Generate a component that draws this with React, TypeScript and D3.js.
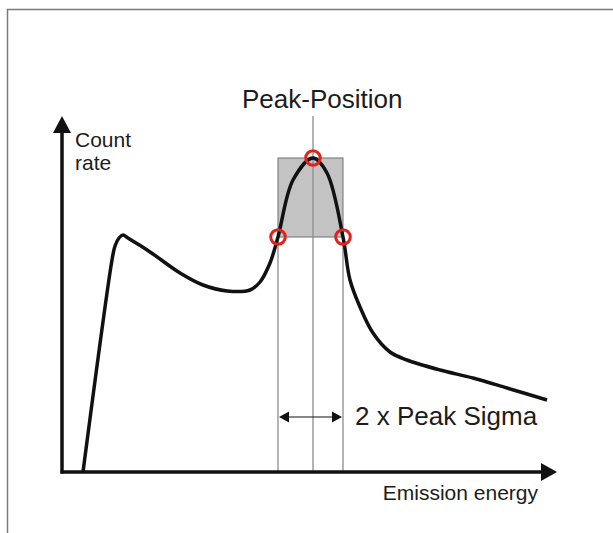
import { useRef, useEffect } from "react";
import * as d3 from "d3";

type Point = { x: number; y: number };

// Spectrum (energy in arbitrary channels, counts in arbitrary units)
const energy = [
  21, 50, 53, 57, 61, 66, 79, 91, 118, 141, 165, 188, 198, 208, 216, 231, 251,
  265, 281, 288, 298, 311, 328, 345, 378, 411, 445, 485,
];
const counts = [
  0, 212, 226, 234, 237, 234, 226, 218, 199, 187, 181, 182, 190, 209, 235, 292,
  314, 299, 235, 192, 165, 139, 120, 112, 102, 94, 84, 72,
];

// Peak markers
const peakPosition = 251;
const peakHeight = 314;
const sigmaLeft = 216;
const sigmaRight = 281;
const halfHeight = 235;

const xAxisMax = 495;
const yAxisMax = 356;

const labels = {
  peak: "Peak-Position",
  sigma: "2 x Peak Sigma",
  x: "Emission energy",
  y: ["Count", "rate"],
};

const width = 613;
const height = 533;
const font = "'Liberation Sans', Arial, sans-serif";

export default function App() {
  const ref = useRef<SVGSVGElement>(null);

  useEffect(() => {
    if (!ref.current) return;
    const svg = d3.select(ref.current);
    svg.selectAll("*").remove();

    const x = d3.scaleLinear().domain([0, 500]).range([62, 562]);
    const y = d3.scaleLinear().domain([0, 360]).range([472, 112]);

    const data: Point[] = energy.map((e, i) => ({ x: e, y: counts[i] }));

    // frame (top and left only)
    svg
      .append("path")
      .attr("d", `M7.5,${height} V9.5 H${width}`)
      .attr("fill", "none")
      .attr("stroke", "#7a7a7a")
      .attr("stroke-width", 1.5);

    // shaded box around the peak
    svg
      .append("rect")
      .attr("x", x(sigmaLeft))
      .attr("y", y(peakHeight))
      .attr("width", x(sigmaRight) - x(sigmaLeft))
      .attr("height", y(halfHeight) - y(peakHeight))
      .attr("fill", "#c3c3c3")
      .attr("stroke", "#707070")
      .attr("stroke-width", 1);

    // guide lines
    const guides = [
      { e: sigmaLeft, top: halfHeight },
      { e: sigmaRight, top: halfHeight },
      { e: peakPosition, top: yAxisMax },
    ];
    svg
      .append("g")
      .selectAll("line")
      .data(guides)
      .join("line")
      .attr("x1", (d) => x(d.e))
      .attr("x2", (d) => x(d.e))
      .attr("y1", (d) => y(d.top))
      .attr("y2", y(0))
      .attr("stroke", "#8c8c8c")
      .attr("stroke-width", 1.3);

    // axes with arrow heads
    svg
      .append("line")
      .attr("x1", x(0))
      .attr("x2", x(0))
      .attr("y1", y(0) + 1.5)
      .attr("y2", y(yAxisMax) + 12)
      .attr("stroke", "#111")
      .attr("stroke-width", 3.5);
    svg
      .append("path")
      .attr("d", `M${x(0)},${y(yAxisMax)} l9,17 h-18 z`)
      .attr("fill", "#111");
    svg
      .append("line")
      .attr("x1", x(0) - 1.5)
      .attr("x2", x(xAxisMax) - 12)
      .attr("y1", y(0))
      .attr("y2", y(0))
      .attr("stroke", "#111")
      .attr("stroke-width", 3.5);
    svg
      .append("path")
      .attr("d", `M${x(xAxisMax)},${y(0)} l-16,-9 v18 z`)
      .attr("fill", "#111");

    // spectrum
    const line = d3
      .line<Point>()
      .x((d) => x(d.x))
      .y((d) => y(d.y))
      .curve(d3.curveCatmullRom.alpha(0.5));
    svg
      .append("path")
      .datum(data)
      .attr("fill", "none")
      .attr("stroke", "#111")
      .attr("stroke-width", 3.5)
      .attr("stroke-linejoin", "round")
      .attr("d", line);

    // red markers
    const marks: Point[] = [
      { x: peakPosition, y: peakHeight },
      { x: sigmaLeft, y: halfHeight },
      { x: sigmaRight, y: halfHeight },
    ];
    svg
      .append("g")
      .selectAll("circle")
      .data(marks)
      .join("circle")
      .attr("cx", (d) => x(d.x))
      .attr("cy", (d) => y(d.y))
      .attr("r", 7.3)
      .attr("fill", "none")
      .attr("stroke", "#e3211c")
      .attr("stroke-width", 3);

    // double arrow for 2 sigma
    const ay = 417;
    svg
      .append("line")
      .attr("x1", x(sigmaLeft) + 4)
      .attr("x2", x(sigmaRight) - 4)
      .attr("y1", ay)
      .attr("y2", ay)
      .attr("stroke", "#111")
      .attr("stroke-width", 1.2);
    svg
      .append("path")
      .attr(
        "d",
        `M${x(sigmaLeft) + 1},${ay} l10,-5.5 v11 z M${x(sigmaRight) - 1},${ay} l-10,-5.5 v11 z`,
      )
      .attr("fill", "#111");

    // text
    const text = (tx: number, ty: number, s: string, size: number, anchor = "start") =>
      svg
        .append("text")
        .attr("x", tx)
        .attr("y", ty)
        .attr("font-family", font)
        .attr("font-size", size)
        .attr("text-anchor", anchor)
        .attr("fill", "#1c1c1c")
        .text(s);

    text(242, 108, labels.peak, 26);
    text(355, 425, labels.sigma, 26);
    text(538, 500, labels.x, 21, "end");
    text(75, 147, labels.y[0], 21);
    text(75, 170, labels.y[1], 21);
  }, []);

  return (
    <svg
      ref={ref}
      width={width}
      height={height}
      style={{ position: "absolute", left: 0, top: 0, background: "#fff" }}
    />
  );
}
